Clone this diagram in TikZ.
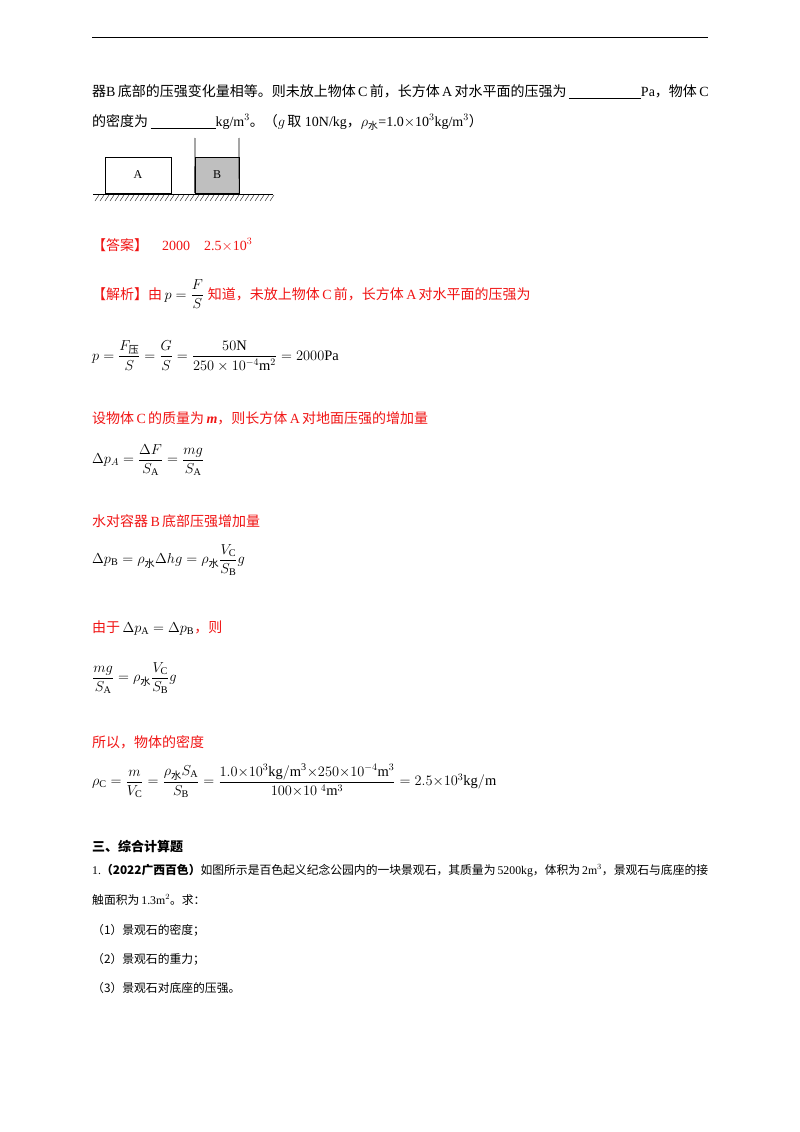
\documentclass[tikz,border=0pt]{standalone}
\usepackage{amsmath}
\usepackage{fontspec}
\setmainfont{Liberation Serif}
\newfontfamily\cjkf{Noto Sans CJK SC}
\newcommand\zh[1]{{\cjkf #1}}
\newcommand\shui{\text{\cjkf 水}}
\definecolor{ansred}{RGB}{240,20,20}
\tikzset{
  txt/.style={anchor=base west,inner sep=0pt,font=\fontsize{14}{16}\selectfont},
  small/.style={anchor=base west,inner sep=0pt,font=\fontsize{11.8}{14}\selectfont},
  eq/.style={anchor=west,inner sep=0pt,font=\fontsize{14.5}{17}\selectfont},
  red/.style={text=ansred}
}
\begin{document}
\begin{tikzpicture}[x=1pt,y=-1pt]
\useasboundingbox (0,0) rectangle (800,1132);
\draw[line width=1pt] (92,38) -- (708,38);
\node[txt] (l1) at (92,96) {\zh{器}B\,\zh{底部的压强变化量相等。则未放上物体}\,C\,\zh{前，长方体}\,A\,\zh{对水平面的压强为}\,\underline{\hspace{72pt}}Pa\zh{，物体}\,C};
\node[txt] (l2) at (92,126) {\zh{的密度为}\,\underline{\hspace{65pt}}kg/m$^3$\zh{。（}$g$\,\zh{取} 10N/kg\zh{，}$\rho_{\shui}$=1.0$\times$10$^3$kg/m$^3$\zh{）}};
% figure
\node[draw,minimum width=66pt,minimum height=36pt,inner sep=0pt,font=\fontsize{12}{14}\selectfont] (A) at (138,175) {A};
\node[draw,fill=black!25,minimum width=44pt,minimum height=36pt,inner sep=0pt,font=\fontsize{12}{14}\selectfont] (B) at (217,175) {B};
\coordinate (bl) at (195,138); \coordinate (br) at (239,138);
\draw[line width=0.8pt] (bl) -- (B.south west); \draw[line width=0.8pt] (br) -- (B.south east);
\draw[line width=0.8pt] (93,194) -- (273,194);
\foreach \i in {0,...,35} \draw (95+5*\i,201) -- (99+5*\i,195);
% answer
\node[txt,red] (ans) at (92,250) {\zh{【答案】}\quad 2000\quad 2.5$\times$10$^3$};
\node[txt,red] (jx) at (92,299) {\zh{【解析】由}\,\textcolor{black}{\fontsize{14.5}{17}\selectfont$p=\dfrac{F}{S}$}\;\zh{知道，未放上物体}\,C\,\zh{前，长方体}\,A\,\zh{对水平面的压强为}};
\node[eq] (e1) at (92,356) {$p=\dfrac{F_{\text{\cjkf 压}}}{S}=\dfrac{G}{S}=\dfrac{50\mathrm{N}}{250\times10^{-4}\mathrm{m}^2}=2000\mathrm{Pa}$};
\node[txt,red] (l3) at (92,423) {\zh{设物体}\,C\,\zh{的质量为}\,\textbf{\textit{m}}\zh{，则长方体}\,A\,\zh{对地面压强的增加量}};
\node[eq] (e2) at (92,460) {$\Delta p_A=\dfrac{\Delta F}{S_{\mathrm A}}=\dfrac{mg}{S_{\mathrm A}}$};
\node[txt,red] (l4) at (92,526) {\zh{水对容器}\,B\,\zh{底部压强增加量}};
\node[eq] (e3) at (92,560) {$\Delta p_{\mathrm B}=\rho_{\shui}\Delta hg=\rho_{\shui}\dfrac{V_{\mathrm C}}{S_{\mathrm B}}g$};
\node[txt,red] (l5) at (92,632) {\zh{由于}\,\textcolor{black}{\fontsize{14.5}{17}\selectfont$\Delta p_{\mathrm A}=\Delta p_{\mathrm B}$}\zh{，则}};
\node[eq] (e4) at (92,678) {$\dfrac{mg}{S_{\mathrm A}}=\rho_{\shui}\dfrac{V_{\mathrm C}}{S_{\mathrm B}}g$};
\node[txt,red] (l6) at (92,747) {\zh{所以，物体的密度}};
\node[eq] (e5) at (92,781) {$\rho_{\mathrm C}=\dfrac{m}{V_{\mathrm C}}=\dfrac{\rho_{\shui}S_{\mathrm A}}{S_{\mathrm B}}=\dfrac{1.0{\times}10^3\mathrm{kg/m^3}{\times}250{\times}10^{-4}\mathrm{m}^3}{100{\times}10^{\ 4}\mathrm{m}^3}=2.5{\times}10^3\mathrm{kg/m}$};
% section
\node[small,font=\fontsize{13}{15}\selectfont\cjkf\bfseries] (s3) at (92,851) {三、综合计算题};
\node[small] (p1) at (92,874) {1.\zh{\textbf{（2022广西百色）}如图所示是百色起义纪念公园内的一块景观石，其质量为}\,5200kg\zh{，体积为}\,2m$^3$\zh{，景观石与底座的接}};
\node[small] (p2) at (92,904) {\zh{触面积为}\,1.3m$^2$\zh{。求：}};
\node[small] (q1) at (92,934) {\zh{（1）景观石的密度；}};
\node[small] (q2) at (92,963) {\zh{（2）景观石的重力；}};
\node[small] (q3) at (92,992) {\zh{（3）景观石对底座的压强。}};
\end{tikzpicture}
\end{document}
